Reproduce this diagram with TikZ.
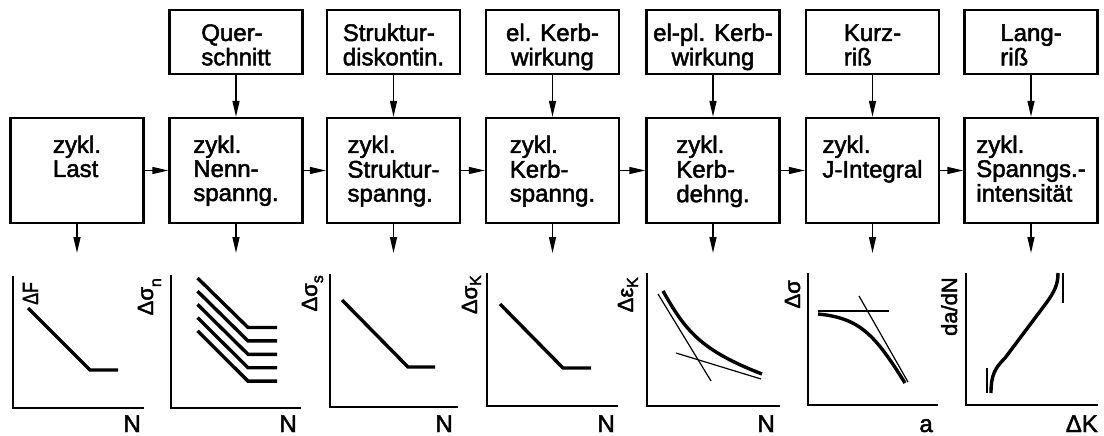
\documentclass[tikz,border=0pt]{standalone}
\usepackage{fontspec}
\setmainfont{Liberation Sans}[FakeBold=2]
\usetikzlibrary{arrows.meta}
% multi-line box texts, aligned on the first line's baseline
\newcommand\stack[1]{\begin{tabular}[t]{@{}l@{}}#1\end{tabular}}
\newcommand\cstack[1]{\begin{tabular}[t]{@{}c@{}}#1\end{tabular}}
% lowered index for the axis quantities
\newcommand\idx[2][-7pt]{\raisebox{#1}{\fontsize{16}{16}\selectfont #2}}

\begin{document}
\begin{tikzpicture}[x=1pt,y=-1pt,
  box/.style={draw, line width=2.4pt, minimum width=133pt, inner sep=0pt},
  topbox/.style={box, text height=31pt, text depth=33pt, font=\fontsize{24}{23}\selectfont},
  midbox/.style={box, text height=35pt, text depth=70pt, font=\fontsize{24}{24}\selectfont},
  arr/.style={line width=1.4pt, -{Triangle[length=16pt,width=7pt]}},
  axis/.style={line width=2.4pt, line join=miter},
  curve/.style={line width=3.4pt, line join=miter},
  thin/.style={line width=1.2pt},
  ylab/.style={rotate=90, anchor=base east, inner sep=0pt, font=\fontsize{22}{22}\selectfont},
  xlab/.style={anchor=base east, inner sep=0pt, font=\fontsize{24}{24}\selectfont},
]
\useasboundingbox (0,0) rectangle (1104,436);

% influencing factors (top row)
\node[topbox] (t2) at (236,42)    {\stack{Quer-\\schnitt}};
\node[topbox] (t3) at (393.5,42)  {\stack{Struktur-\\diskontin.}};
\node[topbox] (t4) at (552.5,42)  {\cstack{el. Kerb-\\wirkung}};
\node[topbox] (t5) at (713,42)    {\cstack{el-pl. Kerb-\\wirkung}};
\node[topbox] (t6) at (872.5,42)  {\stack{Kurz-\\riß}};
\node[topbox] (t7) at (1031,42)   {\stack{Lang-\\riß}};

% chain of cyclic quantities (middle row)
\node[midbox] (m1) at (77,170.5)    {\stack{zykl.\\Last\\\mbox{}}};
\node[midbox] (m2) at (236,170.5)   {\stack{zykl.\\Nenn-\\spanng.}};
\node[midbox] (m3) at (393.5,170.5) {\stack{zykl.\\Struktur-\\spanng.}};
\node[midbox] (m4) at (552.5,170.5) {\stack{zykl.\\Kerb-\\spanng.}};
\node[midbox] (m5) at (713,170.5)   {\stack{zykl.\\Kerb-\\dehng.}};
\node[midbox] (m6) at (872.5,170.5) {\stack{zykl.\\J-Integral\\\mbox{}}};
\node[midbox] (m7) at (1031,170.5)  {\stack{zykl.\\Spanngs.-\\intensität}};

% arrows from the factors into the chain
\foreach \i in {2,...,7} \draw[arr] (t\i.south) -- (m\i.north);
% arrows along the chain
\foreach \i/\j in {1/2,2/3,3/4,4/5,5/6,6/7} \draw[arr] (m\i.east) -- (m\j.west);

% arrow ends above the diagrams
\coordinate (g1) at (77,253);
\coordinate (g2) at (236,253);
\coordinate (g3) at (393.5,253);
\coordinate (g4) at (552.5,253);
\coordinate (g5) at (713,253);
\coordinate (g6) at (872.5,253);
\coordinate (g7) at (1031,253);
\foreach \i in {1,...,7} \draw[arr] (m\i.south) -- (g\i);

% diagram 1: load amplitude
\draw[axis] (13,276) -- (13,408) -- (144,408);
\draw[curve] (28,308) -- (90,370) -- (118,370);
\node[ylab] (l1) at (38,282) {\scalebox{0.8}[1]{ΔF}};
\node[xlab] (n1) at (141,432) {N};

% diagram 2: nominal stress, family of curves
\draw[axis] (171,275) -- (171,408) -- (301,408);
\foreach \k in {0,...,4}
  \draw[curve] (197.5,278+13.2*\k) -- (248,327.5+13.4*\k) -- (277,327.5+13.4*\k);
\node[ylab] (l2) at (153,278) {Δσ\idx[-8pt]{n}};
\node[xlab] (n2) at (297,432) {N};

% diagram 3: structural stress
\draw[axis] (330,274) -- (330,407) -- (458,407);
\draw[curve] (342,300) -- (408,367) -- (435,367);
\node[ylab] (l3) at (317,275) {Δσ\idx[-6pt]{s}};
\node[xlab] (n3) at (453,432) {N};

% diagram 4: notch stress
\draw[axis] (487,273) -- (487,406) -- (618,406);
\draw[curve] (500,304) -- (563,368) -- (591,368);
\node[ylab] (l4) at (477,275) {Δσ\idx[-4pt]{K}};
\node[xlab] (n4) at (615,432) {N};

% diagram 5: notch strain with its two asymptotes
\draw[axis] (647,273) -- (647,406) -- (780,406);
\draw[curve] (663,291) .. controls (685,330) and (700,350) .. (762,374);
\draw[thin] (658,294) -- (711,381);
\draw[thin] (676,353) -- (761,379);
\node[ylab] (l5) at (633,277) {Δε\idx[-5pt]{K}};
\node[xlab] (n5) at (775,432) {N};

% diagram 6: J-integral, stress over crack length
\draw[axis] (808,273) -- (808,405) -- (938,405);
\draw[curve] (818,314) .. controls (860,318) and (875,335) .. (905,383);
\draw[thin] (818,311) -- (889,311);
\draw[thin] (859,296) -- (908,382);
\node[ylab] (l6) at (800,280) {Δσ};
\node[xlab] (n6) at (933,432) {a};

% diagram 7: crack growth rate
\draw[axis] (966,273) -- (966,405) -- (1098,405);
\draw[curve] (991,393) .. controls (991,375) and (995,368) .. (1005,358)
  -- (1047,302) .. controls (1054,292) and (1058,285) .. (1058,273);
\draw[thin] (987,368) -- (987,393);
\draw[thin] (1063,273) -- (1063,303);
\node[ylab] (l7) at (957,277) {da/dN};
\node[xlab] (n7) at (1098,432) {ΔK};
\end{tikzpicture}
\end{document}
